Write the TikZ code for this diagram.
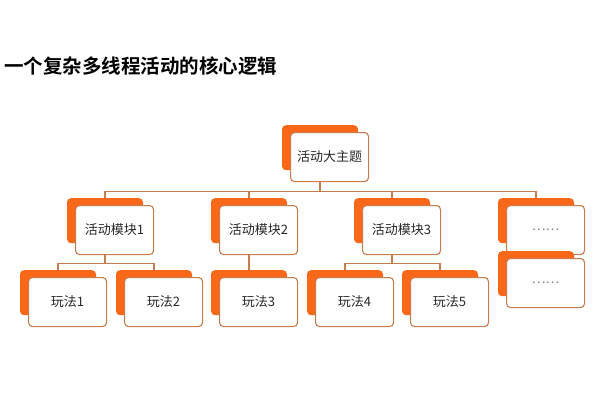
\documentclass[tikz,border=0pt]{standalone}
\usepackage{fontspec}
\setmainfont{Noto Sans CJK SC}
\newfontfamily\titlefont{Noto Sans CJK SC Bold}
\definecolor{org}{RGB}{248,104,24}
\definecolor{brd}{RGB}{200,125,78}
\definecolor{txt}{RGB}{40,40,40}
\tikzset{
  back/.style={fill=org, draw=none, rounded corners=4pt, minimum width=76pt, minimum height=45pt, inner sep=0pt},
  front/.style={fill=white, draw=brd, line width=1.1pt, rounded corners=4pt, minimum width=78pt, minimum height=49pt, inner sep=0pt, font=\fontsize{13}{15}\selectfont, text=txt},
  ln/.style={draw=brd, line width=1.1pt}
}
\newcommand\grp[4]{%
  \node[back, anchor=north] (#1b) at (#2,#3) {};
  \node[front, anchor=north west] (#1) at (#2-30,#3+7) {#4};
}
\begin{document}
\begin{tikzpicture}[x=1pt,y=-1pt]
\useasboundingbox (0,0) rectangle (600,420);
\node[anchor=base west, inner sep=0pt, font=\titlefont\fontsize{19.5}{22}\selectfont] (title) at (4,74) {一个复杂多线程活动的核心逻辑};
\grp{top}{320}{125}{活动大主题}
\grp{m1}{105}{198}{活动模块1}
\grp{m2}{249}{198}{活动模块2}
\grp{m3}{392}{198}{活动模块3}
\grp{m4}{536}{198}{\textcolor{gray}{……}}
\grp{m5}{536}{251}{\textcolor{gray}{……}}
\grp{p1}{58}{270}{玩法1}
\grp{p2}{154}{270}{玩法2}
\grp{p3}{249}{270}{玩法3}
\grp{p4}{345}{270}{玩法4}
\grp{p5}{440}{270}{玩法5}
\draw[ln] (topb.south |- top.south) -- ++(0,9) -| (m1b.north);
\draw[ln] (topb.south |- top.south) -- ++(0,9) -| (m2b.north);
\draw[ln] (topb.south |- top.south) -- ++(0,9) -| (m3b.north);
\draw[ln] (topb.south |- top.south) -- ++(0,9) -| (m4b.north);
\draw[ln] (m1b.south |- m1.south) -- ++(0,8) -| (p1b.north);
\draw[ln] (m1b.south |- m1.south) -- ++(0,8) -| (p2b.north);
\draw[ln] (m2b.south |- m2.south) -- (p3b.north);
\draw[ln] (m3b.south |- m3.south) -- ++(0,8) -| (p4b.north);
\draw[ln] (m3b.south |- m3.south) -- ++(0,8) -| (p5b.north);
\end{tikzpicture}
\end{document}
